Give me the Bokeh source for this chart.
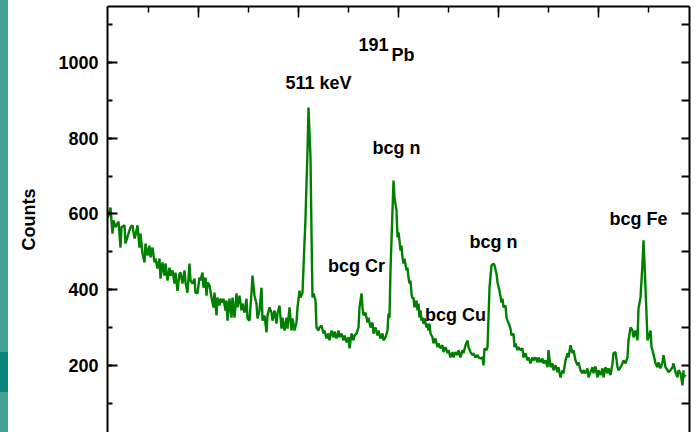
from bokeh.plotting import figure
from bokeh.models import LinearAxis, Div, Range1d, SingleIntervalTicker
from bokeh.layouts import row
from bokeh.core.properties import value
from bokeh.embed import file_html
from bokeh.resources import INLINE

# spectrum: channel number and counts
channel = [9, 10, 12, 14, 15, 17, 20, 22, 23, 26, 27, 30, 32, 34, 36, 37, 39, 41, 42, 44, 46, 47,
           49, 51, 52, 54, 56, 57, 59, 61, 62, 64, 66, 67, 69, 71, 72, 74, 76, 77, 79, 81, 82, 84,
           86, 87, 89, 91, 92, 94, 96, 97, 99, 101, 102, 104, 105, 107, 108, 109, 111, 113, 115,
           116, 118, 119, 121, 122, 124, 125, 127, 128, 129, 131, 133, 134, 136, 138, 139, 141,
           143, 144, 146, 148, 149, 151, 153, 154, 156, 158, 159, 161, 163, 164, 166, 168, 169,
           171, 173, 174, 176, 178, 179, 181, 183, 184, 186, 188, 189, 191, 193, 194, 196, 198,
           199, 201, 202, 204, 205, 207, 209, 210, 212, 213, 214, 215, 217, 218, 220, 221, 223,
           225, 226, 228, 230, 231, 233, 235, 236, 238, 240, 241, 243, 245, 246, 248, 250, 251,
           253, 255, 256, 258, 260, 261, 263, 264, 265, 267, 269, 270, 272, 274, 275, 277, 279,
           280, 282, 284, 285, 287, 289, 290, 291, 292, 294, 295, 296, 298, 299, 300, 301, 302,
           303, 304, 305, 306, 308, 309, 310, 311, 312, 313, 314, 315, 316, 318, 319, 320, 321,
           322, 323, 324, 325, 326, 328, 329, 330, 331, 332, 334, 335, 337, 339, 340, 342, 344,
           345, 347, 349, 350, 352, 354, 355, 357, 359, 360, 362, 364, 365, 367, 369, 370, 372,
           374, 375, 377, 379, 380, 382, 384, 385, 386, 388, 389, 390, 391, 393, 395, 396, 398,
           399, 401, 403, 404, 405, 407, 408, 409, 411, 412, 413, 415, 416, 417, 419, 420, 422,
           424, 425, 427, 429, 430, 432, 434, 435, 437, 439, 440, 442, 444, 445, 447, 449, 450,
           452, 454, 455, 457, 459, 460, 462, 464, 465, 467, 469, 470, 472, 474, 475, 477, 479,
           480, 482, 484, 485, 487, 489, 490, 492, 494, 495, 497, 499, 500, 502, 504, 505, 507,
           509, 510, 512, 514, 515, 517, 519, 520, 522, 524, 525, 527, 529, 530, 532, 534, 535,
           537, 539, 540, 542, 544, 545, 546, 548, 549, 550, 552, 553, 554, 556, 557, 559, 560,
           562, 564, 565, 567, 569, 570, 572, 574, 575, 577, 579, 580, 582, 584, 585, 585, 587,
           589, 591]
counts = [590, 595, 617, 548, 583, 565, 580, 511, 565, 570, 522, 548, 565, 570, 535, 543, 570, 511,
          548, 495, 472, 522, 490, 516, 485, 511, 472, 482, 456, 482, 429, 472, 437, 469, 424, 458,
          437, 451, 416, 445, 397, 442, 445, 416, 451, 419, 392, 469, 424, 416, 429, 392, 390, 432,
          424, 445, 405, 432, 384, 419, 411, 379, 353, 392, 332, 379, 358, 376, 366, 376, 345, 371,
          318, 376, 326, 379, 326, 390, 353, 384, 345, 363, 339, 376, 324, 318, 392, 437, 384, 363,
          324, 345, 405, 318, 332, 287, 332, 353, 339, 318, 345, 310, 337, 358, 297, 326, 292, 326,
          297, 353, 292, 324, 292, 313, 353, 397, 379, 392, 458, 590, 767, 881, 749, 548, 379, 390,
          371, 300, 292, 300, 305, 284, 292, 271, 284, 266, 292, 274, 289, 271, 292, 274, 284, 266,
          279, 261, 274, 245, 284, 266, 279, 284, 300, 353, 390, 353, 332, 339, 313, 326, 300, 313,
          284, 300, 279, 292, 271, 284, 266, 274, 292, 337, 326, 451, 609, 688, 643, 609, 538, 551,
          530, 503, 516, 485, 469, 482, 451, 458, 432, 416, 424, 390, 376, 379, 353, 371, 345, 363,
          326, 345, 318, 326, 310, 324, 300, 310, 292, 310, 284, 274, 258, 271, 248, 258, 245, 253,
          235, 248, 232, 240, 221, 235, 221, 235, 227, 240, 221, 240, 232, 253, 266, 248, 235, 227,
          232, 221, 227, 221, 218, 221, 200, 245, 240, 248, 326, 405, 464, 469, 464, 442, 419, 397,
          366, 376, 353, 358, 326, 318, 305, 297, 279, 284, 248, 258, 240, 248, 240, 245, 221, 232,
          213, 221, 205, 221, 213, 221, 208, 221, 208, 218, 205, 213, 195, 240, 195, 205, 187, 200,
          182, 195, 168, 187, 179, 213, 232, 221, 253, 232, 240, 213, 200, 208, 187, 179, 187, 179,
          192, 168, 182, 195, 179, 197, 168, 187, 174, 192, 168, 195, 179, 192, 174, 205, 232, 235,
          195, 187, 195, 205, 213, 205, 221, 266, 300, 292, 274, 292, 266, 350, 379, 469, 530, 469,
          337, 266, 274, 292, 248, 240, 218, 205, 195, 208, 192, 208, 227, 195, 187, 182, 187, 195,
          205, 182, 168, 187, 179, 147, 187, 168, 175]
n = min(len(channel), len(counts))
channel = channel[:n]
counts = counts[:n]

# annotations
label_text = ["511 keV", "bcg n", "bcg Cr", "bcg Cu", "bcg n", "bcg Fe"]
label_x = [220, 298, 258, 357, 395, 540]
label_y = [947, 775, 462, 334, 527, 586]

y_ticks_major = 200
y_ticks_minor = 100
x_ticks_major = 100

FONT = "Liberation Sans"

p = figure(width=690, height=432, x_range=Range1d(9, 591), y_range=Range1d(22.5, 1148),
           output_backend="svg", toolbar_location=None, x_axis_location="above",
           min_border_left=99, min_border_right=9, min_border_top=6, min_border_bottom=0,
           background_fill_color="white", border_fill_color="white")
p.outline_line_color = None
p.grid.visible = False

p.line(channel, counts, line_color="#008000", line_width=2.4)

p.text(x=label_x, y=label_y, text=label_text, text_font=value(FONT), text_font_style="bold",
       text_font_size="18px", text_align="center", text_baseline="alphabetic", text_color="black")
p.text(x=[260], y=[1048], text=["191"], text_font=value(FONT), text_font_style="bold",
       text_font_size="18px", text_align="left", text_baseline="alphabetic", text_color="black")
p.text(x=[293], y=[1019], text=["Pb"], text_font=value(FONT), text_font_style="bold",
       text_font_size="18px", text_align="left", text_baseline="alphabetic", text_color="black")

# left axis
ya = p.yaxis[0]
ya.ticker = SingleIntervalTicker(interval=y_ticks_major, num_minor_ticks=2)
ya.axis_label = "Counts"
ya.axis_label_text_font = FONT
ya.axis_label_text_font_style = "bold"
ya.axis_label_text_font_size = "18px"
ya.axis_label_text_color = "black"
ya.axis_label_standoff = 16
ya.major_label_text_font = FONT
ya.major_label_text_font_style = "bold"
ya.major_label_text_font_size = "18px"
ya.major_label_text_color = "black"
ya.major_label_standoff = 9
ya.major_tick_in = 10
ya.major_tick_out = 0
ya.minor_tick_in = 5
ya.minor_tick_out = 0
ya.axis_line_width = 2
ya.major_tick_line_width = 2
ya.minor_tick_line_width = 2

# top axis (ticks only)
xa = p.xaxis[0]
xa.ticker = SingleIntervalTicker(interval=x_ticks_major, num_minor_ticks=2)
xa.major_label_text_font_size = "0px"
xa.major_label_text_color = None
xa.major_label_standoff = 0
xa.major_tick_in = 11
xa.major_tick_out = 0
xa.minor_tick_in = 6
xa.minor_tick_out = 0
xa.axis_line_width = 2
xa.major_tick_line_width = 1.5
xa.minor_tick_line_width = 1.5

# right axis (ticks only)
ra = LinearAxis(ticker=SingleIntervalTicker(interval=y_ticks_minor, num_minor_ticks=0))
ra.major_label_text_font_size = "0px"
ra.major_label_text_color = None
ra.major_label_standoff = 0
ra.major_tick_in = 8
ra.major_tick_out = 0
ra.minor_tick_in = 0
ra.minor_tick_out = 0
ra.axis_line_width = 2
ra.major_tick_line_width = 2
p.add_layout(ra, "right")

strip = Div(width=8, height=432, margin=0,
            styles={"background": "linear-gradient(to bottom, #43a095 0px, #43a095 352px, "
                                  "#0b837d 352px, #0b837d 392px, #43a095 392px, #43a095 432px)"})

layout = row(strip, p, spacing=0, margin=0)

open("out.html", "w").write(file_html(layout, INLINE))
